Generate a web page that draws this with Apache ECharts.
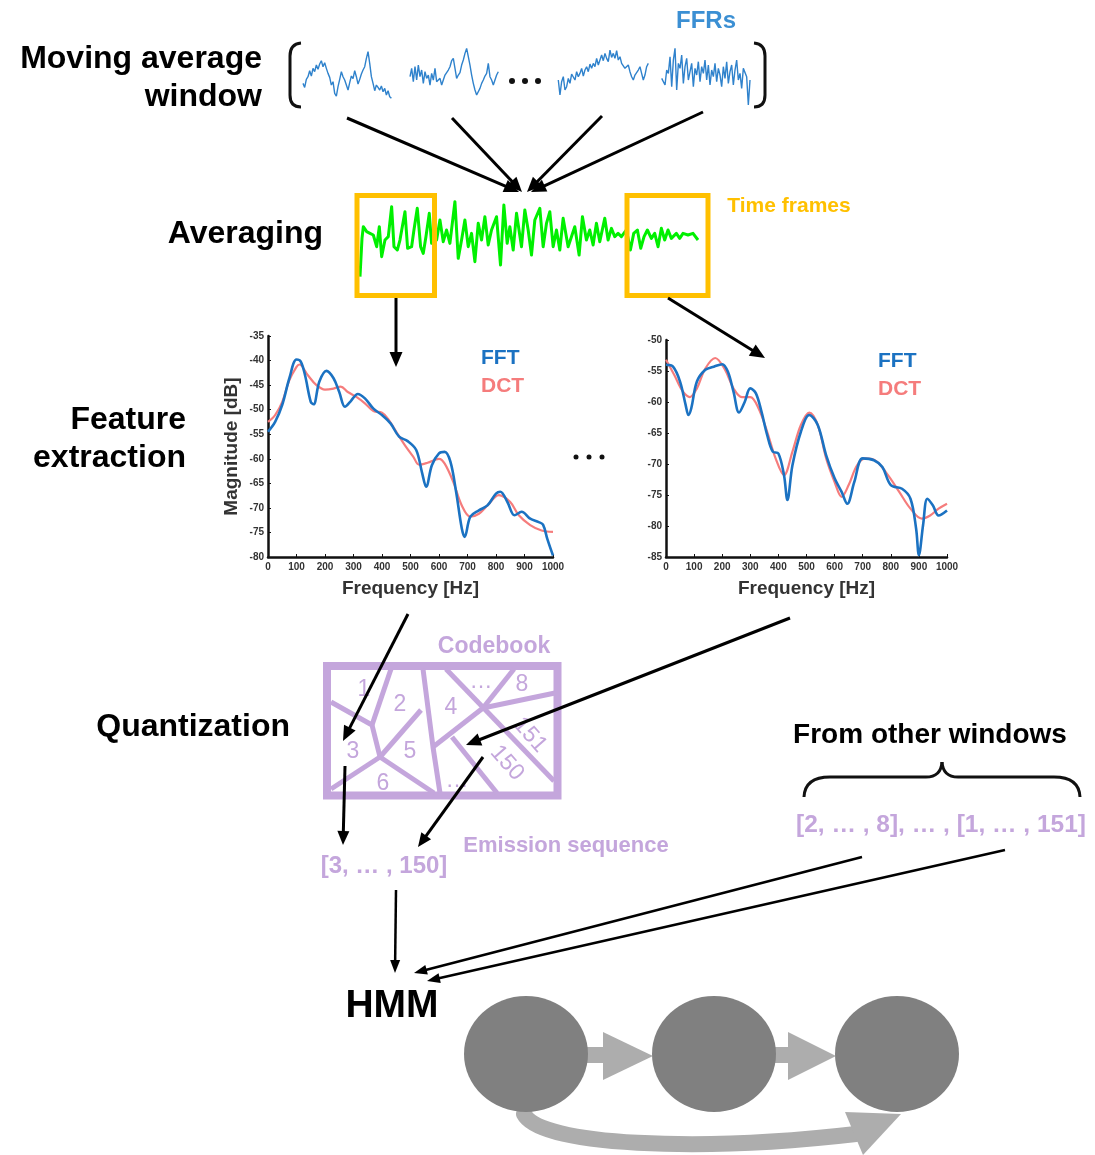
<!DOCTYPE html>
<html><head><meta charset="utf-8">
<script src="https://cdn.jsdelivr.net/npm/echarts@6/dist/echarts.min.js"></script>
<style>html,body{margin:0;padding:0;background:#fff}#c{width:1095px;height:1155px}</style>
</head><body><div id="c"></div>
<script>
// ---------------- DATA ----------------
// Single-trial FFR snippets (amplitude, arbitrary units)
const ffr1 = [50,38,62,70,88,72,95,85,105,92,108,118,100,112,95,80,68,45,55,20,12,40,62,85,70,60,45,30,52,72,64,88,70,48,62,78,90,100,125,145,110,70,50,28,45,38,30,42,25,35,15,28,10,5];
const ffr2 = [70,95,55,100,60,105,70,90,50,85,65,75,45,80,60,95,55,50,65,45,60,75,70,90,100,118,125,95,65,75,82,105,120,140,155,130,105,75,50,30,15,20,35,50,60,72,80,110,70,60,45,60,75,85];
const ffr3 = [60,15,55,70,30,40,65,50,78,75,60,85,70,80,95,72,90,100,85,108,95,110,100,125,105,120,135,118,140,125,115,150,128,140,125,148,120,130,110,110,95,90,105,85,70,60,75,70,90,100,80,60,75,100,110];
const ffr4 = [65,70,45,90,80,130,40,120,155,30,110,95,135,50,100,125,60,85,110,40,95,75,115,55,100,80,120,60,105,45,90,70,110,55,95,75,40,100,65,115,50,85,105,45,90,120,60,80,35,95,100,70,-15,60];
// Averaged response (time position, amplitude)
const greenT = [0,6,10,20,30,40,50,58,65,75,85,95,102,112,120,135,143,155,162,172,182,190,198,208,215,230,240,250,260,270,285,295,305,315,325,335,345,355,365,375,385,395,410,422,432,442,450,460,470,485,495,505,515,525,540,550,560,570,580,590,600,610,625,635,645,658,668,680,690,700,710,720,735,745,755,765,775,785,800,812,822,833,843,853,863,875,885,895,905,915,925,935,950,960,970,985,1000,1015];
const greenV = [-110,5,40,25,20,15,-20,40,-50,0,10,100,-20,-30,0,85,-25,-20,30,95,-20,-40,10,80,-10,0,60,-5,30,-10,115,-55,0,60,-20,20,-65,50,0,70,-15,30,70,-75,105,-10,40,-30,80,-20,90,30,-45,60,95,-20,50,85,-20,30,-30,65,-20,10,40,-45,70,0,30,-15,50,-5,65,0,35,10,20,10,30,-30,20,30,-25,10,30,5,20,-20,35,0,30,5,20,5,20,15,20,0];
// Spectra, left time frame
const fftLeftHz = [0,25,50,75,100,115,130,150,160,180,205,230,250,270,290,315,340,370,400,430,460,490,520,540,555,575,600,620,640,660,680,690,710,740,770,800,815,840,865,890,920,950,965,980,1000];
const fftLeftDb = [-54.5,-52.5,-49,-43.6,-39.8,-40.2,-43,-48.4,-48.9,-44.3,-42.1,-43.6,-46.4,-49.4,-48.3,-46.8,-47.7,-49.8,-51.1,-52.8,-55.5,-56.4,-58.2,-62.7,-65.7,-61.3,-58.9,-58.6,-60.6,-66.7,-74.2,-75.9,-71.8,-70.5,-69.5,-67.1,-66.7,-68.8,-71.5,-70.8,-72.2,-72.9,-73.4,-76.3,-79.7];
const dctLeftHz = [0,25,50,75,100,110,140,170,200,230,255,280,310,340,370,400,420,450,480,510,530,560,600,620,650,680,710,740,770,810,850,880,920,960,1000];
const dctLeftDb = [-52.5,-51.1,-48.4,-44,-41.3,-40.8,-43,-45,-45.9,-45.7,-45.3,-46.4,-47.4,-48.7,-50.3,-50.6,-51.8,-54.5,-57.2,-59.6,-61.2,-60.8,-60,-61,-64.7,-69.5,-71.8,-71.2,-69.5,-67.4,-68.8,-71.5,-73.5,-74.6,-74.9];
// Spectra, right time frame
const fftRightHz = [0,25,50,70,80,90,110,140,170,200,220,240,260,280,300,320,340,360,380,400,420,432,450,480,510,540,570,600,625,645,670,700,740,770,800,840,870,890,900,915,930,950,970,1000];
const fftRightDb = [-54,-54.3,-56.7,-60.5,-62.1,-61,-56.7,-54.8,-54.3,-53.9,-55.1,-58.3,-61.7,-60,-57.8,-58.6,-61.6,-65.3,-68,-68.3,-71.8,-75.8,-70.2,-64.8,-62.1,-63.7,-68.6,-72.3,-74.5,-76.4,-72.9,-69.1,-69.4,-70.5,-73.4,-74,-75.6,-80.4,-84.7,-79.8,-75.6,-76.7,-78.3,-77.5];
const dctRightHz = [0,30,60,85,110,140,175,210,240,270,300,330,360,390,420,450,480,510,540,570,600,625,650,680,710,750,790,830,870,910,940,970,1000];
const dctRightDb = [-53.2,-55.7,-58.3,-59.2,-57.8,-54.6,-52.9,-54.8,-57.8,-59.2,-59.2,-61.1,-64.8,-69.1,-71.8,-68,-63.7,-61.7,-63.7,-69.1,-72.9,-75.3,-73.4,-70.2,-69.1,-69.6,-71.8,-74.5,-77.2,-78.8,-78.3,-77.2,-76.4];
// Axis ticks
const freqTicks = {min:0, max:1000, step:100};
const magLeft = {min:-80, max:-35, step:5};
const magRight = {min:-85, max:-50, step:5};
// Texts
const codebookCells = ['1','2','4','…','8','3','5','6','…','151','150'];
const emissionSeq = '[3, … , 150]';
const otherSeq = '[2, … , 8], … , [1, … , 151]';

// ---------------- RENDER ----------------
const FONT = '"Liberation Sans", Arial, sans-serif';
const LILAC = '#C4A6DC';
const ORANGE = '#FFC000';
const chart = echarts.init(document.getElementById('c'), null, {renderer:'canvas'});

const pairs = (xs, ys) => xs.map((x, i) => [x, ys[i]]);
const idx = a => a.map((_, i) => i);

function txt(t, x, y, size, color, align, weight, extra) {
  return Object.assign({
    type:'text', x, y, z:40,
    style:{text:t, font:`${weight||'bold'} ${size}px ${FONT}`, fill:color, align:align||'left', verticalAlign:'middle', textAlign:align||'left', textVerticalAlign:'middle'}
  }, extra||{});
}
function arrow(x1, y1, x2, y2, w, hl, hw) {
  const dx = x2-x1, dy = y2-y1, L = Math.hypot(dx, dy), ux = dx/L, uy = dy/L;
  const bx = x2-ux*hl, by = y2-uy*hl, px = -uy, py = ux;
  return [
    {type:'line', z:50, shape:{x1, y1, x2:bx+ux*2, y2:by+uy*2}, style:{stroke:'#000', lineWidth:w}},
    {type:'polygon', z:50, shape:{points:[[x2,y2],[bx+px*hw/2,by+py*hw/2],[bx-px*hw/2,by-py*hw/2]]}, style:{fill:'#000'}}
  ];
}
function poly(points, color, w) {
  return {type:'polyline', z:20, shape:{points}, style:{stroke:color, lineWidth:w, fill:null, lineJoin:'round'}};
}
function quad(x1, y1, cx, cy, x2, y2, color, w) {
  return {type:'bezierCurve', z:20, shape:{x1, y1, cpx1:cx, cpy1:cy, x2, y2}, style:{stroke:color, lineWidth:w, fill:null}};
}
function seg(x1, y1, x2, y2, color, w) {
  return {type:'line', z:20, shape:{x1, y1, x2, y2}, style:{stroke:color, lineWidth:w}};
}

// small waveform grids
const wGrids = [
  {left:303, top:46.7, width:88.4, height:60},
  {left:410, top:46.7, width:88.3, height:60},
  {left:558.3, top:46.7, width:90, height:60},
  {left:661.7, top:46.7, width:88.3, height:60},
  {left:360, top:200, width:338, height:76.7}
];
const grids = wGrids.concat([
  {left:268, top:336, width:285, height:221},
  {left:666, top:340, width:281, height:217}
]);
const hiddenX = (gi, data) => ({gridIndex:gi, type:'category', data, boundaryGap:false, show:false});
const hiddenY = (gi, min, max) => ({gridIndex:gi, type:'value', min, max, show:false});
const labelStyle = {fontSize:10, fontWeight:'bold', color:'#333', fontFamily:FONT, formatter:v => String(v)};
function specX(gi) {
  return {gridIndex:gi, type:'value', min:freqTicks.min, max:freqTicks.max, interval:freqTicks.step,
    axisLine:{show:true, onZero:false, lineStyle:{color:'#111', width:2.5}},
    axisTick:{show:true, inside:true, length:3, lineStyle:{color:'#111', width:1}},
    splitLine:{show:false}, axisLabel:Object.assign({margin:5}, labelStyle),
    name:'Frequency [Hz]', nameLocation:'middle', nameGap:22,
    nameTextStyle:{fontSize:19, fontWeight:'bold', color:'#333', fontFamily:FONT}};
}
function specY(gi, t, withName) {
  const o = {gridIndex:gi, type:'value', min:t.min, max:t.max, interval:t.step,
    axisLine:{show:true, onZero:false, lineStyle:{color:'#111', width:2.5}},
    axisTick:{show:true, inside:true, length:3, lineStyle:{color:'#111', width:1}},
    splitLine:{show:false}, axisLabel:Object.assign({margin:4}, labelStyle)};
  if (withName) Object.assign(o, {name:'Magnitude [dB]', nameLocation:'middle', nameGap:27, nameRotate:90,
    nameTextStyle:{fontSize:19, fontWeight:'bold', color:'#333', fontFamily:FONT}});
  return o;
}
const ffrs = [ffr1, ffr2, ffr3, ffr4];
const xAxes = ffrs.map((a, i) => hiddenX(i, idx(a)));
xAxes.push({gridIndex:4, type:'value', min:0, max:1015, show:false});
xAxes.push(specX(5), specX(6));
const yAxes = ffrs.map((a, i) => hiddenY(i, -20, 160));
yAxes.push(hiddenY(4, -110, 120));
yAxes.push(specY(5, magLeft, true), specY(6, magRight, false));

const FFT_C = '#1B72C2', DCT_C = '#F57C7C';
const series = ffrs.map((a, i) => ({type:'line', xAxisIndex:i, yAxisIndex:i, data:a, showSymbol:false, animation:false,
  lineStyle:{color:'#2F82CC', width:1.4}}));
series.push({type:'line', xAxisIndex:4, yAxisIndex:4, data:pairs(greenT, greenV), showSymbol:false, animation:false,
  lineStyle:{color:'#00F000', width:3, join:'round'}});
const specLine = (xi, d, color, w, z) => ({type:'line', xAxisIndex:xi, yAxisIndex:xi, data:d, smooth:0.35, showSymbol:false, animation:false, z, lineStyle:{color, width:w}});
series.push(specLine(5, pairs(dctLeftHz, dctLeftDb), DCT_C, 2.2, 2));
series.push(specLine(5, pairs(fftLeftHz, fftLeftDb), FFT_C, 2.6, 3));
series.push(specLine(6, pairs(dctRightHz, dctRightDb), DCT_C, 2.2, 2));
series.push(specLine(6, pairs(fftRightHz, fftRightDb), FFT_C, 2.6, 3));

// ---------------- DIAGRAM GRAPHICS ----------------
const G = [];
G.push(txt('Moving average', 262, 59, 32, '#000', 'right'));
G.push(txt('window', 262, 97, 32, '#000', 'right'));
G.push(txt('Averaging', 323, 234, 32, '#000', 'right'));
G.push(txt('Feature', 186, 420, 32, '#000', 'right'));
G.push(txt('extraction', 186, 458, 32, '#000', 'right'));
G.push(txt('Quantization', 290, 727, 32, '#000', 'right'));
G.push(txt('From other windows', 930, 735, 28, '#000', 'center'));
G.push(txt('HMM', 392, 1006, 39, '#000', 'center'));
G.push(txt('FFRs', 706, 21, 24, '#3B8FD3', 'center'));
G.push(txt('Time frames', 789, 206, 21, ORANGE, 'center'));
// brackets
G.push(quad(301,43, 290,44, 290,56, '#111', 3), seg(290,56,290,95,'#111',3), quad(290,95, 290,107, 301,107, '#111', 3));
G.push(quad(754,43, 765,44, 765,56, '#111', 3), seg(765,56,765,95,'#111',3), quad(765,95, 765,107, 754,107, '#111', 3));
// dots
[512,525,538].forEach(x => G.push({type:'circle', z:20, shape:{cx:x, cy:81, r:3}, style:{fill:'#111'}}));
[576,589,602].forEach(x => G.push({type:'circle', z:20, shape:{cx:x, cy:457, r:2.5}, style:{fill:'#111'}}));
// time frame boxes
G.push({type:'rect', z:30, shape:{x:357, y:195.5, width:77.5, height:100}, style:{stroke:ORANGE, lineWidth:5, fill:null}});
G.push({type:'rect', z:30, shape:{x:627, y:195.5, width:81, height:100}, style:{stroke:ORANGE, lineWidth:5, fill:null}});
// spectra legends
G.push(txt('FFT', 481, 358, 21, FFT_C, 'left'));
G.push(txt('DCT', 481, 386, 21, DCT_C, 'left'));
G.push(txt('FFT', 878, 361, 21, FFT_C, 'left'));
G.push(txt('DCT', 878, 389, 21, DCT_C, 'left'));
// codebook
G.push(txt('Codebook', 494, 647, 23, LILAC, 'center'));
G.push({type:'rect', z:20, shape:{x:327, y:666, width:230.5, height:129.5}, style:{stroke:LILAC, lineWidth:8, fill:null}});
[
  [[331,702],[372,725],[380,757]],
  [[391,669],[372,725]],
  [[380,757],[331,789]],
  [[380,757],[421,710]],
  [[380,757],[434,793]],
  [[423,669],[433,747],[440,793]],
  [[433,747],[483,708]],
  [[446,669],[554,781]],
  [[483,708],[514,669]],
  [[483,708],[555,693]],
  [[452,737],[497,793]]
].forEach(p => G.push(poly(p, LILAC, 5)));
const cellPos = [[364,690,0],[400,705,0],[451,708,0],[481,682,0],[522,685,0],[353,752,0],[410,752,0],[383,784,0],[457,781,0],[530,735,-0.85],[507,763,-0.85]];
codebookCells.forEach((t, i) => {
  const [x, y, r] = cellPos[i];
  G.push(txt(t, x, y, 23, LILAC, 'center', 'normal', {rotation:r, z:22}));
});
G.push(txt('Emission sequence', 566, 846, 22, LILAC, 'center'));
G.push(txt(emissionSeq, 384, 866, 24, LILAC, 'center'));
G.push(txt(otherSeq, 941, 825, 24.5, LILAC, 'center'));
// brace
G.push(quad(804,797, 805,777, 830,777, '#111', 3), seg(830,777,926,777,'#111',3), quad(926,777, 941,777, 942,762, '#111', 3),
       quad(942,762, 943,777, 958,777, '#111', 3), seg(958,777,1054,777,'#111',3), quad(1054,777, 1079,777, 1080,797, '#111', 3));
// black arrows
[
  [347,118,519,192,3,15,13],
  [452,118,522,192,3,15,13],
  [602,116,527,192,3,15,13],
  [703,112,531,192,3,15,13],
  [396,298,396,367,3,15,13],
  [668,298,765,358,3,15,13],
  [408,614,343,741,3,15,13],
  [790,618,466,745,3,15,13],
  [345,766,343,845,3,14,12],
  [483,757,418,847,3,14,12],
  [396,890,395,973,2.5,13,10],
  [862,857,414,973,2.5,13,10],
  [1005,850,427,981,2.5,13,10]
].forEach(a => arrow(...a).forEach(e => G.push(e)));
// HMM
const GREY = '#808080', LGREY = '#ADADAD';
G.push({type:'bezierCurve', z:18, shape:{x1:524, y1:1114, cpx1:540, cpy1:1146, cpx2:700, cpy2:1152, x2:856, y2:1134}, style:{stroke:LGREY, lineWidth:16, fill:null, lineCap:'round'}});
G.push({type:'polygon', z:18, shape:{points:[[845,1112],[901,1114],[863,1155]]}, style:{fill:LGREY}});
[[526,1054],[714,1054],[897,1054]].forEach(([cx, cy]) => G.push({type:'circle', z:20, x:cx, y:cy, scaleX:62/58, shape:{cx:0, cy:0, r:58}, style:{fill:GREY}}));
G.push({type:'rect', z:19, shape:{x:586, y:1047, width:19, height:16}, style:{fill:LGREY}});
G.push({type:'polygon', z:19, shape:{points:[[603,1032],[603,1080],[653,1056]]}, style:{fill:LGREY}});
G.push({type:'rect', z:19, shape:{x:774, y:1047, width:16, height:16}, style:{fill:LGREY}});
G.push({type:'polygon', z:19, shape:{points:[[788,1032],[788,1080],[836,1056]]}, style:{fill:LGREY}});

chart.setOption({
  animation:false,
  backgroundColor:'#fff',
  grid:grids.map(g => Object.assign({containLabel:false}, g)),
  xAxis:xAxes,
  yAxis:yAxes,
  series,
  graphic:{elements:G}
});
</script></body></html>
